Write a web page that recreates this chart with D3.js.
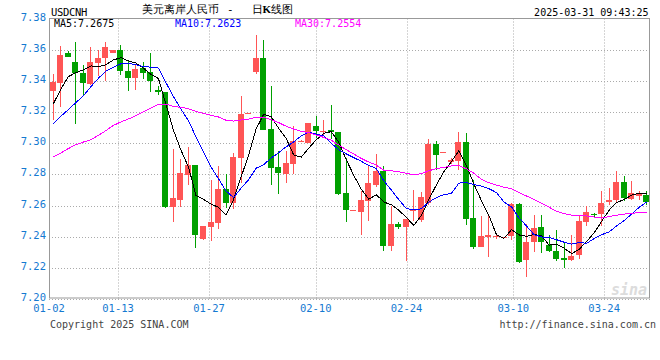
<!DOCTYPE html>
<html>
<head>
<meta charset="utf-8">
<script src="https://cdn.jsdelivr.net/npm/d3@7"></script>
<style>
  body { margin: 0; background: #fff; }
  text { font-family: "DejaVu Sans Mono", monospace; }
</style>
</head>
<body>
<div id="kline"></div>
<script>
// daily bars, 2025-01-02 .. 2025-03-31
var opens = [7.3337,7.3386,7.3581,7.3521,7.3448,7.3382,7.3517,7.3547,7.3581,7.3598,
  7.3465,7.3420,7.3482,7.3457,7.3343,7.3328,7.2593,7.2637,7.2794,7.2860,
  7.2387,7.2462,7.2490,7.2706,7.2616,7.2905,7.3187,7.3457,7.3547,7.3091,
  7.2849,7.2802,7.2866,7.3014,7.3001,7.3110,7.3078,7.3084,7.3072,7.2680,
  7.2567,7.2558,7.2631,7.2729,7.2824,7.2340,7.2481,7.2460,7.2567,7.2509,
  7.2616,7.2995,7.2939,7.2877,7.2883,7.3007,7.2520,7.2336,7.2400,7.2400,
  7.2395,7.2402,7.2610,7.2252,7.2364,7.2460,7.2349,7.2306,7.2263,7.2252,
  7.2280,7.2496,7.2545,7.2548,7.2620,7.2633,7.2751,7.2644,7.2663,7.2670];
var highs = [7.3444,7.3621,7.3594,7.3649,7.3499,7.3615,7.3596,7.3649,7.3600,7.3628,
  7.3525,7.3508,7.3521,7.3579,7.3365,7.3328,7.2963,7.2898,7.2975,7.2860,
  7.2466,7.2766,7.2851,7.2804,7.2937,7.3305,7.3195,7.3692,7.3664,7.3365,
  7.2948,7.2952,7.3108,7.3018,7.3129,7.3172,7.3147,7.3243,7.3072,7.2905,
  7.2572,7.2691,7.2862,7.2930,7.2856,7.2595,7.2494,7.2513,7.2697,7.2684,
  7.3027,7.3016,7.2943,7.2905,7.3072,7.3065,7.2766,7.2530,7.2530,7.2424,
  7.2400,7.2614,7.2614,7.2481,7.2537,7.2537,7.2409,7.2445,7.2366,7.2413,
  7.2541,7.2595,7.2550,7.2691,7.2712,7.2819,7.2789,7.2759,7.2691,7.2691];
var lows = [7.3151,7.3230,7.3555,7.3123,7.3301,7.3375,7.3429,7.3401,7.3581,7.3435,
  7.3333,7.3343,7.3412,7.3330,7.3307,7.2584,7.2492,7.2590,7.2734,7.2327,
  7.2381,7.2374,7.2451,7.2584,7.2580,7.2744,7.3185,7.3444,7.3087,7.2734,
  7.2676,7.2744,7.2804,7.3012,7.3001,7.3033,7.3050,7.3029,7.2665,7.2494,
  7.2565,7.2413,7.2498,7.2717,7.2306,7.2306,7.2451,7.2246,7.2498,7.2494,
  7.2601,7.2830,7.2937,7.2868,7.2830,7.2473,7.2323,7.2334,7.2267,7.2387,
  7.2390,7.2381,7.2231,7.2143,7.2299,7.2295,7.2302,7.2242,7.2199,7.2242,
  7.2259,7.2471,7.2520,7.2466,7.2605,7.2616,7.2631,7.2637,7.2637,7.2605];
var closes = [7.3393,7.3568,7.3555,7.3448,7.3386,7.3521,7.3547,7.3615,7.3600,7.3461,
  7.3418,7.3476,7.3452,7.3401,7.3328,7.2590,7.2648,7.2809,7.2862,7.2413,
  7.2466,7.2494,7.2706,7.2616,7.2909,7.3187,7.3192,7.3547,7.3087,7.2841,
  7.2809,7.2873,7.3012,7.3016,7.3129,7.3076,7.3080,7.3070,7.2674,7.2573,
  7.2570,7.2637,7.2744,7.2824,7.2338,7.2481,7.2460,7.2513,7.2570,7.2655,
  7.2997,7.2926,7.2941,7.2890,7.3007,7.2516,7.2334,7.2404,7.2409,7.2402,
  7.2398,7.2610,7.2237,7.2366,7.2456,7.2364,7.2306,7.2259,7.2248,7.2278,
  7.2503,7.2558,7.2537,7.2616,7.2637,7.2751,7.2648,7.2680,7.2678,7.2622];

// MA values at the start of the window (need data before 01-02)
var ma5Head = [7.3251,7.3346,7.3427,7.3452];
var ma10Head = [7.3126,7.3172,7.3215,7.3260,7.3303,7.3362,7.3416,7.3463,7.3487];
var ma30Head = [7.2911,7.2937,7.2965,7.2990,7.3007,7.3022,7.3050,7.3080,7.3114,7.3136,
  7.3155,7.3176,7.3200,7.3226,7.3249,7.3251,7.3236,7.3230,7.3221,7.3204,
  7.3191,7.3179,7.3168,7.3147,7.3142,7.3149,7.3155,7.3166,7.3166];

var maNames = ["MA5", "MA10", "MA30"];
var maLast = ["7.2675", "7.2623", "7.2554"];
var maColors = ["#000000", "#0000ff", "#ff00ff"];

var tickPos = [-0.5, 8.7, 20.8, 35, 47.1, 61.3, 73.4];
var tickLabels = ["01-02", "01-13", "01-27", "02-10", "02-24", "03-10", "03-24"];
var yTicks = [7.20, 7.22, 7.24, 7.26, 7.28, 7.30, 7.32, 7.34, 7.36, 7.38];

var W = 660, H = 360;
var plotL = 49, plotR = 650, plotT = 18.5, plotB = 299;
var up = "#ff5555", down = "#00a000", axisBlue = "#1479d1";

var svg = d3.select("#kline").append("svg")
  .attr("width", W).attr("height", H);

var n = closes.length;
var x = d3.scaleLinear().domain([-0.5, n - 0.5]).range([plotL, plotR]);
var y = d3.scaleLinear().domain([7.20, 7.38]).range([plotB, plotT]);

// grid
svg.append("g").selectAll("line")
  .data(yTicks.slice(0, -1))
  .enter().append("line")
    .attr("x1", plotL).attr("x2", plotR)
    .attr("y1", function(d) { return Math.round(y(d)) + 0.5; })
    .attr("y2", function(d) { return Math.round(y(d)) + 0.5; })
    .attr("stroke", "#aaa").attr("stroke-dasharray", "1,2");

svg.append("g").selectAll("line")
  .data(tickPos.slice(1))
  .enter().append("line")
    .attr("x1", function(d) { return Math.round(x(d)) + 0.5; })
    .attr("x2", function(d) { return Math.round(x(d)) + 0.5; })
    .attr("y1", plotT).attr("y2", plotB)
    .attr("stroke", "#aaa").attr("stroke-dasharray", "1,2");

// frame
svg.append("rect")
  .attr("x", plotL + 0.5).attr("y", plotT)
  .attr("width", plotR - plotL - 1).attr("height", plotB - plotT - 1)
  .attr("fill", "none").attr("stroke", "#999");

// y labels
svg.append("g").selectAll("text")
  .data(yTicks)
  .enter().append("text")
    .attr("x", 46).attr("y", function(d) { return y(d) + 2; })
    .attr("text-anchor", "end")
    .attr("font-size", "10.5px").attr("fill", axisBlue)
    .text(function(d) { return d.toFixed(2); });

// x labels
svg.append("g").selectAll("text")
  .data(tickPos)
  .enter().append("text")
    .attr("x", function(d) { return x(d); }).attr("y", 312)
    .attr("text-anchor", "middle")
    .attr("font-size", "10.5px").attr("fill", axisBlue)
    .text(function(d, i) { return tickLabels[i]; });

// watermark
svg.append("text")
  .attr("x", 647).attr("y", 295).attr("text-anchor", "end")
  .attr("font-family", "DejaVu Sans").attr("font-size", "15px")
  .attr("font-weight", "bold").attr("font-style", "italic")
  .attr("fill", "#dcdcdc").text("sina");

// candles
var idx = d3.range(n);
var candles = svg.append("g").attr("shape-rendering", "crispEdges");

candles.selectAll(".wick")
  .data(idx)
  .enter().append("rect")
    .attr("class", "wick")
    .attr("x", function(i) { return Math.round(x(i)); })
    .attr("width", 1)
    .attr("y", function(i) { return Math.round(y(highs[i])); })
    .attr("height", function(i) { return Math.max(1, Math.round(y(lows[i])) - Math.round(y(highs[i]))); })
    .attr("fill", function(i) { return closes[i] >= opens[i] ? up : down; });

candles.selectAll(".body")
  .data(idx)
  .enter().append("rect")
    .attr("class", "body")
    .attr("x", function(i) { return Math.round(x(i)) - 3; })
    .attr("width", 6)
    .attr("y", function(i) { return Math.round(y(Math.max(opens[i], closes[i]))); })
    .attr("height", function(i) {
      return Math.max(1, Math.round(y(Math.min(opens[i], closes[i]))) - Math.round(y(Math.max(opens[i], closes[i]))));
    })
    .attr("fill", function(i) { return closes[i] >= opens[i] ? up : down; });

// moving averages
function movingAvg(len, head) {
  return closes.map(function(c, i) {
    if (i < len - 1) return head[i];
    return d3.mean(closes.slice(i - len + 1, i + 1));
  });
}
var maSeries = [movingAvg(5, ma5Head), movingAvg(10, ma10Head), movingAvg(30, ma30Head)];

var line = d3.line()
  .x(function(d, i) { return x(i) + 0.5; })
  .y(function(d) { return y(d); });

svg.append("g").selectAll("path")
  .data(maSeries)
  .enter().append("path")
    .attr("d", line)
    .attr("fill", "none")
    .attr("stroke", function(d, i) { return maColors[i]; })
    .attr("stroke-width", 1)
    .attr("shape-rendering", "crispEdges");

// legend row
var legendX = [54, 175, 295];
svg.append("g").selectAll("text")
  .data(maNames)
  .enter().append("text")
    .attr("x", function(d, i) { return legendX[i]; })
    .attr("y", 27)
    .attr("font-size", "10px")
    .attr("fill", function(d, i) { return maColors[i]; })
    .text(function(d, i) { return d + ":" + maLast[i]; });

// header
svg.append("text")
  .attr("x", 51).attr("y", 15.5)
  .attr("font-family", "Liberation Serif").attr("font-size", "10.5px")
  .attr("letter-spacing", "-0.3")
  .text("USDCNH");

var title = svg.append("text")
  .attr("y", 12.5)
  .attr("font-family", "Noto Sans CJK SC").attr("font-size", "11px")
  .attr("fill", "#000");
title.append("tspan").attr("x", 142).text("美元离岸人民币");
title.append("tspan").attr("x", 227).text("-");
title.append("tspan").attr("x", 251.5).text("日");
title.append("tspan").attr("font-family", "Liberation Serif").attr("font-weight", "bold").text("K");
title.append("tspan").text("线图");

svg.append("text")
  .attr("x", 648.5).attr("y", 15.5).attr("text-anchor", "end")
  .attr("font-size", "10px").attr("fill", "#000")
  .text("2025-03-31 09:43:25");

// footer
svg.append("text")
  .attr("x", 50).attr("y", 328)
  .attr("font-size", "10px").attr("fill", "#444")
  .text("Copyright 2025 SINA.COM");

svg.append("text")
  .attr("x", 656).attr("y", 328).attr("text-anchor", "end")
  .attr("font-size", "10px").attr("fill", "#444")
  .text("http://finance.sina.com.cn");
</script>
</body>
</html>
